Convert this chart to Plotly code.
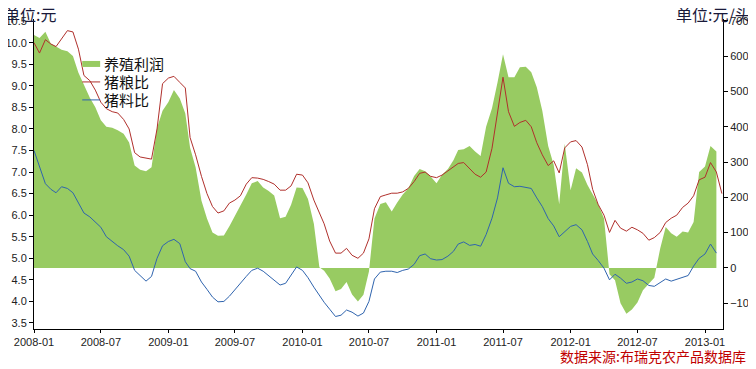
import plotly.graph_objects as go

# semi-monthly observation dates (1st and 16th of each month), 2008-01 .. 2013-02
dates = [f"{y}-{m:02d}-{d:02d}" for y in range(2008, 2014) for m in range(1, 13) for d in (1, 16)][:124]

# 养殖利润 (元/头, right axis)
profit = [660, 651, 669, 635, 627, 618, 614, 600, 553, 518,
          482, 455, 418, 400, 397, 390, 380, 355, 290, 278,
          274, 285, 396, 445, 470, 504, 480, 437, 340, 285,
          190, 140, 100, 91, 92, 118, 146, 175, 208, 240,
          246, 228, 218, 205, 141, 145, 179, 228, 226, 195,
          125, 2, -8, -30, -66, -60, -40, -75, -95, -76,
          -10, 140, 181, 186, 160, 185, 208, 225, 260, 280,
          274, 259, 240, 264, 280, 305, 334, 336, 345, 330,
          317, 400, 452, 525, 605, 540, 540, 568, 570, 554,
          512, 445, 345, 292, 180, 352, 220, 282, 270, 235,
          210, 181, 140, -18, -35, -100, -130, -118, -98, -63,
          -45, -28, 55, 116, 98, 88, 103, 100, 130, 272,
          287, 345, 330, None]

# 猪粮比 (left axis)
pig_grain = [10.0, 9.76, 10.07, 9.97, 9.91, 10.1, 10.28, 10.25, 9.85, 9.24,
             9.12, 8.9, 8.62, 8.47, 8.4, 8.37, 8.22, 8.0, 7.45, 7.35,
             7.32, 7.3, 8.0, 9.05, 9.18, 9.22, 9.08, 8.95, 7.8, 7.4,
             6.9, 6.5, 6.2, 6.05, 6.1, 6.28, 6.35, 6.45, 6.72, 6.87,
             6.86, 6.83, 6.78, 6.72, 6.58, 6.58, 6.68, 6.95, 6.93, 6.75,
             6.35, 6.05, 5.8, 5.4, 5.12, 5.12, 5.23, 5.07, 5.0, 5.12,
             5.45, 6.15, 6.43, 6.47, 6.51, 6.51, 6.54, 6.62, 6.78, 6.97,
             7.0, 6.9, 6.87, 6.93, 7.03, 7.12, 7.2, 7.22, 7.07, 6.95,
             6.88, 7.0, 7.55, 8.4, 9.2, 8.4, 8.06, 8.15, 8.2, 8.05,
             7.68, 7.4, 7.15, 7.26, 6.98, 7.56, 7.7, 7.73, 7.58, 7.17,
             6.6, 6.25, 6.0, 5.6, 5.88, 5.7, 5.63, 5.72, 5.66, 5.58,
             5.42, 5.48, 5.6, 5.83, 5.93, 6.0, 6.18, 6.28, 6.45, 6.82,
             6.88, 7.22, 7.0, 6.5]

# 猪料比 (left axis)
pig_feed = [7.5, 7.1, 6.73, 6.6, 6.52, 6.66, 6.62, 6.52, 6.3, 6.05,
            5.96, 5.84, 5.72, 5.5, 5.38, 5.29, 5.2, 5.05, 4.72, 4.6,
            4.47, 4.58, 5.0, 5.29, 5.39, 5.44, 5.34, 4.92, 4.76, 4.7,
            4.45, 4.28, 4.1, 3.99, 4.0, 4.12, 4.27, 4.44, 4.58, 4.72,
            4.77, 4.7, 4.6, 4.48, 4.38, 4.42, 4.6, 4.8, 4.72, 4.55,
            4.33, 4.13, 3.98, 3.82, 3.65, 3.68, 3.8, 3.75, 3.66, 3.73,
            4.0, 4.52, 4.68, 4.7, 4.7, 4.67, 4.72, 4.75, 4.86, 5.06,
            5.1, 4.99, 4.96, 4.97, 5.05, 5.16, 5.33, 5.38, 5.3, 5.32,
            5.28, 5.55, 5.93, 6.4, 7.1, 6.74, 6.66, 6.67, 6.65, 6.62,
            6.4, 6.2, 5.92, 5.75, 5.5, 5.62, 5.74, 5.78, 5.66, 5.39,
            5.1, 4.95, 4.77, 4.5, 4.63, 4.54, 4.42, 4.45, 4.52, 4.48,
            4.37, 4.35, 4.43, 4.52, 4.47, 4.51, 4.55, 4.6, 4.82, 5.0,
            5.1, 5.33, 5.12, None]

tick_dates = ["2008-01-01", "2008-07-01", "2009-01-01", "2009-07-01", "2010-01-01",
              "2010-07-01", "2011-01-01", "2011-07-01", "2012-01-01", "2012-07-01", "2013-01-01"]
tick_labels = ["2008-01", "2008-07", "2009-01", "2009-07", "2010-01",
               "2010-07", "2011-01", "2011-07", "2012-01", "2012-07", "2013-01"]

series_names = ["养殖利润", "猪粮比", "猪料比"]

GREEN = "#98CB62"
RED = "#B0302C"
BLUE = "#2F64AE"
CJK = "Noto Sans CJK SC"
LAT = "Arial, Liberation Sans, sans-serif"

fig = go.Figure()
fig.add_trace(go.Scatter(x=dates, y=profit, mode="lines", line=dict(width=0, color=GREEN),
                         fill="tozeroy", fillcolor=GREEN, yaxis="y", name=series_names[0],
                         showlegend=False))
fig.add_trace(go.Scatter(x=dates, y=pig_grain, mode="lines", line=dict(color=RED, width=1),
                         name=series_names[1], yaxis="y2", showlegend=False))
fig.add_trace(go.Scatter(x=dates, y=pig_feed, mode="lines", line=dict(color=BLUE, width=1),
                         name=series_names[2], yaxis="y2", showlegend=False))

axis_common = dict(ticks="outside", ticklen=4, tickcolor="black",
                   showline=True, linecolor="black", linewidth=1,
                   showgrid=False, zeroline=False, automargin=False,
                   tickfont=dict(family=LAT, size=11, color="#222222"))

# manual legend (swatch + label) in paper coordinates
legend_colors = [GREEN, RED, BLUE]
legend_widths = [6, 1, 1]
legend_y = [0.855, 0.797, 0.739]
shapes = []
annotations = []
for name, col, w, yy in zip(series_names, legend_colors, legend_widths, legend_y):
    shapes.append(dict(type="line", xref="paper", yref="paper", x0=0.070, x1=0.096,
                       y0=yy, y1=yy, line=dict(color=col, width=w)))
    annotations.append(dict(text=name, xref="paper", yref="paper", x=0.099, y=yy,
                            xanchor="left", yanchor="middle", showarrow=False,
                            font=dict(family=CJK, size=15, color="#111111")))

annotations += [
    dict(text="单位:元", xref="paper", yref="paper", x=-0.047, y=1.016,
         xanchor="left", yanchor="middle", showarrow=False,
         font=dict(family=CJK, size=16, color="#1a1a3a")),
    dict(text="单位:元/头", xref="paper", yref="paper", x=1.044, y=1.016,
         xanchor="right", yanchor="middle", showarrow=False,
         font=dict(family=CJK, size=16, color="#1a1a3a")),
    dict(text="数据来源:布瑞克农产品数据库", xref="paper", yref="paper", x=1.037, y=-0.088,
         xanchor="right", yanchor="middle", showarrow=False,
         font=dict(family=CJK, size=14, color="#C00000")),
]

fig.update_layout(
    width=756, height=369, autosize=False,
    margin=dict(l=26, r=41, t=11, b=48),
    paper_bgcolor="white", plot_bgcolor="white",
    font=dict(family=LAT, size=11, color="#222222"),
    showlegend=False,
    xaxis=dict(type="date", range=["2008-01-01", "2013-02-19"],
               tickvals=tick_dates, ticktext=tick_labels,
               **{**axis_common, "ticklen": 3}),
    yaxis=dict(side="right", range=[-173, 705],
               tickvals=[-100, 0, 100, 200, 300, 400, 500, 600, 700], **axis_common),
    yaxis2=dict(overlaying="y", side="left", range=[3.36, 10.55],
                tick0=3.5, dtick=0.5, tickformat=".1f", **axis_common),
    shapes=shapes,
    annotations=annotations,
)

fig.write_html("out.html")
